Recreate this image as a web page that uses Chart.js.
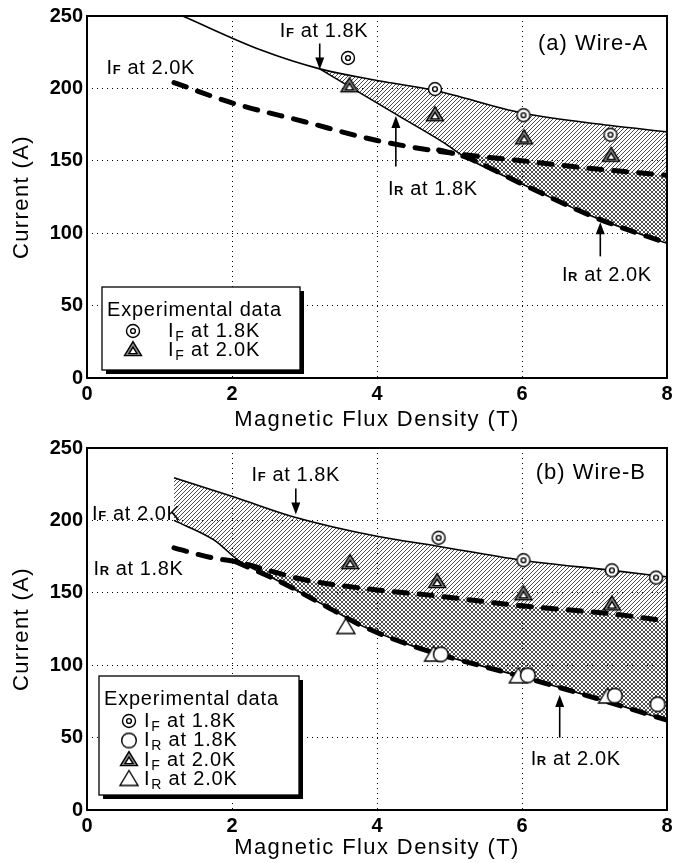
<!DOCTYPE html>
<html>
<head>
<meta charset="utf-8">
<script src="https://cdn.jsdelivr.net/npm/chart.js@4.4.0/dist/chart.umd.min.js"></script>
<style>
html, body { margin: 0; padding: 0; background: #fff; }
.panel { position: absolute; left: 0; width: 683px; height: 431px; }
#wrapA { top: 0; }
#wrapB { top: 432px; }
</style>
</head>
<body>
<div class="panel" id="wrapA"><canvas id="chartA" width="683" height="431"></canvas></div>
<div class="panel" id="wrapB"><canvas id="chartB" width="683" height="431"></canvas></div>
<script>
const FONT = "'Liberation Sans', Arial, sans-serif"

// ---- axis ticks
const xTicks = [0, 2, 4, 6, 8]
const yTicks = [0, 50, 100, 150, 200, 250]

// ---- (a) Wire-A : curves
const aIF18LineX = [1.32, 2.4, 3.21, 4.0, 4.8, 6.0, 7.2, 8.0]
const aIF18LineY = [250, 226.5, 213.5, 205.5, 198.5, 183, 174.5, 170]
const aIR18LineX = [3.21, 4.3, 4.92, 5.2, 6.0, 7.0, 8.0]
const aIR18LineY = [213.5, 181, 162.5, 153, 134, 111, 93]
const aIF20LineX = [1.2, 2.0, 3.0, 4.0, 5.0, 6.0, 7.0, 8.0]
const aIF20LineY = [204, 190, 177, 164, 155.5, 150, 144.5, 140]
const aIR20LineX = [4.85, 5.2, 6.0, 7.0, 8.0]
const aIR20LineY = [157.5, 153, 134, 111, 93]
// ---- (a) Wire-A : experimental data
const aIF18PtsX = [3.6, 4.8, 6.02, 7.22]
const aIF18PtsY = [221, 199.5, 181.5, 168]
const aIF20PtsX = [3.62, 4.8, 6.03, 7.23]
const aIF20PtsY = [201.5, 181.5, 165.5, 153.5]

// ---- (b) Wire-B : curves
const bIF18LineX = [1.2, 2.04, 2.88, 4.0, 4.8, 6.0, 7.24, 8.0]
const bIF18LineY = [229.5, 216, 202, 189, 182.5, 172.5, 165.5, 161]
const bIR18LineX = [1.2, 1.75, 2.1, 2.65, 3.25, 3.8, 4.45, 5.0, 6.0, 7.0, 8.0]
const bIR18LineY = [200, 186.5, 172, 158, 142, 127, 114, 105.5, 92, 77.5, 62]
const bIF20LineX = [1.2, 1.74, 2.05, 3.0, 4.0, 4.8, 6.0, 7.24, 8.0]
const bIF20LineY = [181, 174, 171.5, 159, 152, 148, 141, 135.5, 130.5]
const bIR20LineX = [2.05, 2.65, 3.25, 3.8, 4.45, 5.0, 6.0, 7.0, 8.0]
const bIR20LineY = [171.5, 158, 142, 127, 114, 105.5, 92, 77.5, 62]
// ---- (b) Wire-B : experimental data
const bIF18PtsX = [4.85, 6.02, 7.24, 7.85]
const bIF18PtsY = [188, 172.5, 165.5, 160.5]
const bIR18PtsX = [4.88, 6.08, 7.28, 7.87]
const bIR18PtsY = [107.5, 93, 79, 73]
const bIF20PtsX = [3.63, 4.83, 6.02, 7.24]
const bIF20PtsY = [170.5, 157.5, 149, 142]
const bIR20PtsX = [3.57, 4.78, 5.95, 7.18]
const bIR20PtsY = [126, 107, 92, 78]

// ---- annotation labels (data units) and arrows
const aLabels = [
    {x: 2.66, y: 240, sub: 'F', rest: ' at 1.8K'},
    {x: 0.27, y: 215, sub: 'F', rest: ' at 2.0K'},
    {x: 4.15, y: 131, sub: 'R', rest: ' at 1.8K'},
    {x: 6.55, y: 72, sub: 'R', rest: ' at 2.0K'}
]
const aArrows = [
    {x: 3.21, from: 231, to: 213},
    {x: 4.26, from: 146, to: 181},
    {x: 7.08, from: 84, to: 107.5}
]
const bLabels = [
    {x: 2.27, y: 232, sub: 'F', rest: ' at 1.8K'},
    {x: 0.07, y: 205, sub: 'F', rest: ' at 2.0K'},
    {x: 0.09, y: 167, sub: 'R', rest: ' at 1.8K'},
    {x: 6.12, y: 36, sub: 'R', rest: ' at 2.0K'}
]
const bArrows = [
    {x: 2.88, from: 222, to: 204},
    {x: 6.52, from: 50, to: 79.5}
]

function hatch(dir) {
    const c = document.createElement('canvas')
    c.width = 4; c.height = 4
    const g = c.getContext('2d')
    g.strokeStyle = '#3a3a3a'
    g.lineWidth = 0.9
    g.beginPath()
    if (dir > 0) {
        g.moveTo(-1, 5); g.lineTo(5, -1)
        g.moveTo(-1, 1); g.lineTo(1, -1)
        g.moveTo(3, 5); g.lineTo(5, 3)
    } else {
        g.moveTo(-1, -1); g.lineTo(5, 5)
        g.moveTo(3, -1); g.lineTo(5, 1)
        g.moveTo(-1, 3); g.lineTo(1, 5)
    }
    g.stroke()
    return g.createPattern(c, 'repeat')
}

function tri(g, cx, cy, w, h, fill) {
    g.beginPath()
    g.moveTo(cx, cy - h * 0.6)
    g.lineTo(cx + w, cy + h * 0.4)
    g.lineTo(cx - w, cy + h * 0.4)
    g.closePath()
    g.fillStyle = fill
    g.fill()
    g.stroke()
}

function marker(kind) {
    const c = document.createElement('canvas')
    c.width = 22; c.height = 22
    const g = c.getContext('2d')
    g.strokeStyle = '#000'
    g.lineWidth = 1.4
    g.fillStyle = '#fff'
    if (kind === 'dblCircle') {
        g.beginPath(); g.arc(11, 11, 6.5, 0, Math.PI * 2); g.fill(); g.stroke()
        g.beginPath(); g.arc(11, 11, 2.4, 0, Math.PI * 2); g.stroke()
    } else if (kind === 'circle') {
        g.beginPath(); g.arc(11, 11, 7.3, 0, Math.PI * 2); g.fill(); g.stroke()
    } else if (kind === 'dblTri') {
        tri(g, 11, 11, 8.5, 14, '#8a8a8a')
        tri(g, 11, 12, 4, 6.5, '#fff')
    } else {
        tri(g, 11, 11, 9, 15, '#fff')
    }
    return c
}

const mDblCircle = marker('dblCircle')
const mCircle = marker('circle')
const mDblTri = marker('dblTri')
const mTri = marker('tri')

function drawILabel(ctx, x, y, sub, rest) {
    ctx.fillStyle = '#000'
    ctx.textAlign = 'left'
    ctx.textBaseline = 'alphabetic'
    ctx.letterSpacing = '0.6px'
    const base = y + 7
    ctx.font = '20px ' + FONT
    ctx.fillText('I', x, base)
    let cx = x + ctx.measureText('I').width
    ctx.font = 'bold 13px ' + FONT
    ctx.fillText(sub, cx, base)
    cx += ctx.measureText(sub).width
    ctx.font = '20px ' + FONT
    ctx.fillText(rest, cx, base)
}

function drawArrow(ctx, x, y1, y2) {
    ctx.strokeStyle = '#000'
    ctx.fillStyle = '#000'
    ctx.lineWidth = 1.6
    const dir = y2 > y1 ? 1 : -1
    ctx.beginPath()
    ctx.moveTo(x, y1)
    ctx.lineTo(x, y2 - dir * 8)
    ctx.stroke()
    ctx.beginPath()
    ctx.moveTo(x, y2)
    ctx.lineTo(x - 4.5, y2 - dir * 12)
    ctx.lineTo(x + 4.5, y2 - dir * 12)
    ctx.closePath()
    ctx.fill()
}

function drawLegend(ctx, box, rows) {
    ctx.fillStyle = '#000'
    ctx.fillRect(box.x + 4, box.y + 4, box.w, box.h)
    ctx.fillStyle = '#fff'
    ctx.fillRect(box.x, box.y, box.w, box.h)
    ctx.strokeStyle = '#000'
    ctx.lineWidth = 1.3
    ctx.strokeRect(box.x, box.y, box.w, box.h)
    ctx.fillStyle = '#000'
    ctx.letterSpacing = '0.8px'
    ctx.textBaseline = 'middle'
    ctx.textAlign = 'left'
    ctx.font = '20px ' + FONT
    ctx.fillText('Experimental data', box.x + 5, box.y + 23)
    rows.forEach((r, i) => {
        const yy = box.y + box.titleGap + i * box.rowGap
        ctx.drawImage(r.img, box.mx - 11, yy - 11)
        ctx.font = '20px ' + FONT
        ctx.fillStyle = '#000'
        ctx.fillText('I', box.tx, yy)
        const w = ctx.measureText('I').width
        ctx.font = '14px ' + FONT
        ctx.fillText(r.sub, box.tx + w + 1, yy + 6)
        const w2 = ctx.measureText(r.sub).width
        ctx.font = '20px ' + FONT
        ctx.fillText(r.rest, box.tx + w + w2 + 1, yy)
    })
}

function buildPanel(canvasId, p) {
    const xy = (xs, ys) => xs.map((x, i) => ({x, y: ys[i]}))
    const solid = {
        showLine: true, borderColor: '#000', borderWidth: 1.6, pointRadius: 0,
        cubicInterpolationMode: 'monotone', order: 3
    }
    const dashed = {
        showLine: true, borderColor: '#000', borderWidth: 5, borderDash: [13, 12],
        borderCapStyle: 'round', pointRadius: 0, cubicInterpolationMode: 'monotone', order: 2
    }
    const pts = (img) => ({showLine: false, pointStyle: img, pointRadius: 8, order: 1})

    const datasets = [
        {...solid, label: 'IF at 1.8K', data: xy(p.if18x, p.if18y), fill: '+1', backgroundColor: hatch(1)},
        {...solid, label: 'IR at 1.8K', data: xy(p.ir18x, p.ir18y), fill: false},
        {...dashed, label: 'IF at 2.0K', data: xy(p.if20x, p.if20y), fill: '+1', backgroundColor: hatch(-1)},
        {...dashed, label: 'IR at 2.0K', data: xy(p.ir20x, p.ir20y), fill: false}
    ]
    p.points.forEach(s => datasets.push({...pts(s.img), label: s.label, data: xy(s.x, s.y)}))

    const overlay = {
        id: 'overlay',
        afterDraw(chart) {
            const ctx = chart.ctx
            const a = chart.chartArea
            const sx = chart.scales.x
            const sy = chart.scales.y
            ctx.save()
            // frame
            ctx.strokeStyle = '#000'
            ctx.lineWidth = 2
            ctx.strokeRect(a.left, a.top, a.right - a.left, a.bottom - a.top)
            // panel tag
            ctx.fillStyle = '#000'
            ctx.font = '22px ' + FONT
            ctx.letterSpacing = '1px'
            ctx.textBaseline = 'middle'
            ctx.textAlign = 'left'
            ctx.fillText(p.tag, sx.getPixelForValue(p.tagX), sy.getPixelForValue(p.tagY))
            // annotations
            p.labels.forEach(l => drawILabel(ctx, sx.getPixelForValue(l.x), sy.getPixelForValue(l.y), l.sub, l.rest))
            p.arrows.forEach(r => drawArrow(ctx, sx.getPixelForValue(r.x), sy.getPixelForValue(r.from), sy.getPixelForValue(r.to)))
            // legend
            drawLegend(ctx, p.legend, p.points)
            // axis titles
            ctx.fillStyle = '#000'
            ctx.font = '22px ' + FONT
            ctx.letterSpacing = '1.4px'
            ctx.textAlign = 'center'
            ctx.textBaseline = 'middle'
            ctx.fillText('Magnetic Flux Density (T)', (a.left + a.right) / 2, a.bottom + p.xTitleGap)
            ctx.translate(22, (a.top + a.bottom) / 2)
            ctx.rotate(-Math.PI / 2)
            ctx.fillText('Current (A)', 0, 0)
            ctx.restore()
        }
    }

    const tickFont = {family: FONT, size: 20, weight: 'bold'}
    return new Chart(document.getElementById(canvasId), {
        type: 'scatter',
        data: {datasets},
        options: {
            responsive: false,
            animation: false,
            layout: {padding: {top: 16, right: 16, left: 0, bottom: 0}},
            plugins: {
                legend: {display: false},
                tooltip: {enabled: false},
                filler: {drawTime: 'beforeDatasetsDraw'}
            },
            scales: {
                x: {
                    type: 'linear', min: 0, max: 8,
                    afterBuildTicks: s => { s.ticks = xTicks.map(v => ({value: v})) },
                    afterFit: s => { s.height = 53 },
                    ticks: {font: tickFont, color: '#000', padding: 4},
                    grid: {color: '#000', lineWidth: 1, drawTicks: false},
                    border: {display: false, dash: [1, 4]}
                },
                y: {
                    type: 'linear', min: 0, max: 250,
                    afterBuildTicks: s => { s.ticks = yTicks.map(v => ({value: v})) },
                    afterFit: s => { s.width = 87 },
                    ticks: {font: tickFont, color: '#000', padding: 4},
                    grid: {color: '#000', lineWidth: 1, drawTicks: false},
                    border: {display: false, dash: [1, 4]}
                }
            }
        },
        plugins: [overlay]
    })
}

buildPanel('chartA', {
    if18x: aIF18LineX, if18y: aIF18LineY, ir18x: aIR18LineX, ir18y: aIR18LineY,
    if20x: aIF20LineX, if20y: aIF20LineY, ir20x: aIR20LineX, ir20y: aIR20LineY,
    points: [
        {label: 'IF at 1.8K', img: mDblCircle, x: aIF18PtsX, y: aIF18PtsY, sub: 'F', rest: ' at 1.8K'},
        {label: 'IF at 2.0K', img: mDblTri, x: aIF20PtsX, y: aIF20PtsY, sub: 'F', rest: ' at 2.0K'}
    ],
    tag: '(a) Wire-A', tagX: 6.22, tagY: 231,
    labels: aLabels, arrows: aArrows,
    legend: {x: 102, y: 287, w: 198, h: 83, titleGap: 44, rowGap: 19, mx: 133, tx: 168},
    xTitleGap: 42
})

buildPanel('chartB', {
    if18x: bIF18LineX, if18y: bIF18LineY, ir18x: bIR18LineX, ir18y: bIR18LineY,
    if20x: bIF20LineX, if20y: bIF20LineY, ir20x: bIR20LineX, ir20y: bIR20LineY,
    points: [
        {label: 'IF at 1.8K', img: mDblCircle, x: bIF18PtsX, y: bIF18PtsY, sub: 'F', rest: ' at 1.8K'},
        {label: 'IR at 1.8K', img: mCircle, x: bIR18PtsX, y: bIR18PtsY, sub: 'R', rest: ' at 1.8K'},
        {label: 'IF at 2.0K', img: mDblTri, x: bIF20PtsX, y: bIF20PtsY, sub: 'F', rest: ' at 2.0K'},
        {label: 'IR at 2.0K', img: mTri, x: bIR20PtsX, y: bIR20PtsY, sub: 'R', rest: ' at 2.0K'}
    ],
    tag: '(b) Wire-B', tagX: 6.19, tagY: 233,
    labels: bLabels, arrows: bArrows,
    legend: {x: 99, y: 244, w: 200, h: 119, titleGap: 45, rowGap: 19.5, mx: 129, tx: 144},
    xTitleGap: 38
})
</script>
</body>
</html>
